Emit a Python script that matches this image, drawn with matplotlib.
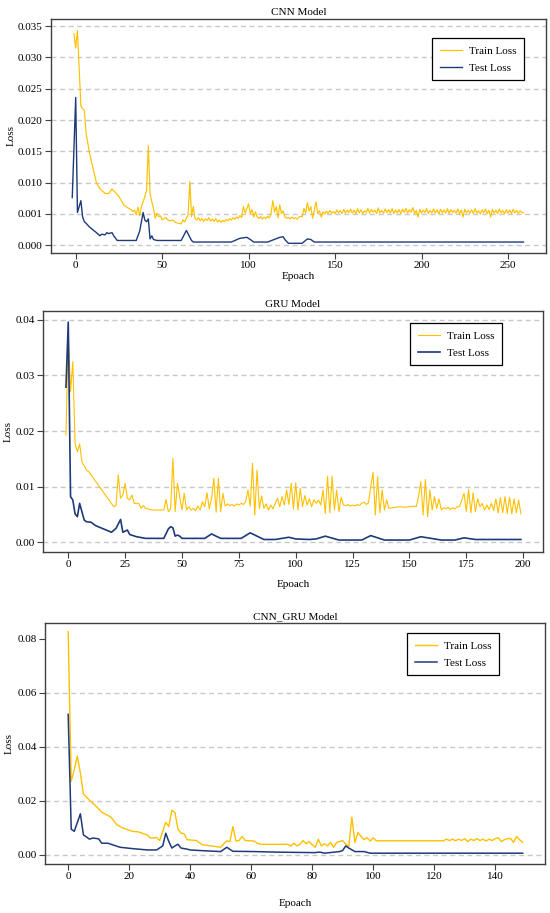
import numpy as np
import matplotlib
matplotlib.use("Agg")
import matplotlib.pyplot as plt

plt.rcParams["font.family"] = ["Liberation Serif", "DejaVu Serif"]
plt.rcParams["font.size"] = 8

TRAIN_COLOR = "#FFC000"
TEST_COLOR = "#1F3A7A"

# ---------------- CNN model ----------------
cnn_ticks = [0.000, 0.001, 0.010, 0.015, 0.020, 0.025, 0.030, 0.035]

cnn_train_epoch = [
    -1, 0, 1, 3, 5, 6, 8, 10, 12, 14, 17, 19, 21, 25, 28, 32, 33, 34, 35, 36,
    37, 38, 39, 40, 41, 42, 43, 44, 45, 46, 47, 48, 49, 50, 52, 54, 56, 58, 61, 62,
    63, 65, 66, 67, 68, 69, 70, 71, 72, 73, 74, 75, 76, 77, 78, 79, 80, 81, 82, 83,
    84, 85, 86, 87, 88, 89, 90, 91, 92, 93, 94, 95, 96, 97, 98, 99, 100, 101, 102, 103,
    104, 105, 106, 107, 108, 109, 110, 111, 112, 113, 114, 115, 116, 117, 118, 119, 120, 121, 122, 123,
    124, 125, 126, 127, 128, 129, 130, 131, 132, 133, 134, 135, 136, 137, 138, 139,
]
cnn_train_loss = [
    0.0338, 0.0315, 0.0343, 0.0222, 0.0215, 0.0179, 0.0147, 0.0123, 0.0099, 0.0082,
    0.0069, 0.0068, 0.0082, 0.0060, 0.0034, 0.0022, 0.0017, 0.0021, 0.00097, 0.0029,
    0.00094, 0.0031, 0.0045, 0.0060, 0.0079, 0.0159, 0.0069, 0.0045, 0.0026, 0.00086,
    0.0012, 0.00091, 0.00094, 0.00081, 0.00088, 0.00078, 0.00080, 0.00072, 0.00068, 0.00081,
    0.00074, 0.00097, 0.0102, 0.00091, 0.0031, 0.00086, 0.00080, 0.00088, 0.00078, 0.00086,
    0.00076, 0.00084, 0.00079, 0.00088, 0.00077, 0.00083, 0.00076, 0.00085, 0.00074, 0.00080,
    0.00073, 0.00079, 0.00075, 0.00082, 0.00078, 0.00085, 0.00080, 0.00088, 0.00083, 0.00090,
    0.00086, 0.00095, 0.00088, 0.0031, 0.0012, 0.0026, 0.0039, 0.0011, 0.0022, 0.00090,
    0.0016, 0.00090, 0.00086, 0.00091, 0.00084, 0.00089, 0.00085, 0.00092, 0.00087, 0.0012,
    0.0048, 0.0015, 0.0031, 0.00088, 0.0036, 0.0011, 0.0019, 0.00090, 0.00086, 0.00089,
    0.00084, 0.00090, 0.00085, 0.00088, 0.00083, 0.00089, 0.00092, 0.00090, 0.0026, 0.0012,
    0.0042, 0.0018, 0.0031, 0.00086, 0.0021, 0.0045,
]
cnn_tail_epoch = list(range(140, 260))
cnn_tail_loss = [
    0.0011, 0.0019, 0.0009, 0.0016, 0.0010, 0.0018, 0.0011, 0.0020, 0.0012, 0.0017,
    0.0010, 0.0021, 0.0013, 0.0019, 0.0011, 0.0023, 0.0012, 0.0020, 0.0014, 0.0024,
    0.0012, 0.0021, 0.0010, 0.0025, 0.0013, 0.0022, 0.0011, 0.0019, 0.0013, 0.0026,
    0.0012, 0.0023, 0.0015, 0.0021, 0.0011, 0.0027, 0.0013, 0.0020, 0.0012, 0.0024,
    0.0014, 0.0022, 0.0012, 0.0025, 0.0011, 0.0021, 0.0013, 0.0023, 0.0010, 0.0024,
    0.0014, 0.0026, 0.0012, 0.0022, 0.0015, 0.0028, 0.0011, 0.0020, 0.0009, 0.0023,
    0.0012, 0.0021, 0.0014, 0.0025, 0.0011, 0.0020, 0.0013, 0.0024, 0.0012, 0.0022,
    0.0010, 0.0023, 0.0013, 0.0021, 0.0012, 0.0025, 0.0011, 0.0022, 0.0014, 0.0020,
    0.0012, 0.0024, 0.0011, 0.0021, 0.0009, 0.0023, 0.0013, 0.0020, 0.0012, 0.0022,
    0.0011, 0.0025, 0.0012, 0.0019, 0.0010, 0.0022, 0.0013, 0.0024, 0.0011, 0.0020,
    0.0009, 0.0023, 0.0012, 0.0021, 0.0011, 0.0024, 0.0013, 0.0020, 0.0010, 0.0022,
    0.0012, 0.0021, 0.0011, 0.0023, 0.0013, 0.0020, 0.0012, 0.0019, 0.0014, 0.0013,
]
cnn_test_epoch = [
    -2, 0, 1, 3, 4, 5, 6, 8, 10, 12, 14, 15, 17, 18, 19, 21, 22, 24, 35, 37,
    39, 40, 41, 42, 43, 44, 45, 47, 61, 64, 67, 68, 90, 95, 99, 101, 103, 111, 118, 120,
    121, 123, 131, 134, 136, 138, 259,
]
cnn_test_loss = [
    0.0057, 0.0236, 0.0014, 0.0048, 0.0009, 0.00075, 0.00070, 0.00058, 0.00049, 0.00040,
    0.00030, 0.00035, 0.00033, 0.00040, 0.00037, 0.00040, 0.00030, 0.00015, 0.00015, 0.00045,
    0.0014, 0.00080, 0.00075, 0.00084, 0.00020, 0.00030, 0.00018, 0.00015, 0.00015, 0.00047,
    0.00015, 0.00010, 0.00010, 0.00022, 0.00025, 0.00018, 0.00010, 0.00010, 0.00025, 0.00027,
    0.00018, 0.00006, 0.00006, 0.00020, 0.00018, 0.00010, 0.00010,
]

# ---------------- GRU model ----------------
gru_train_epoch = [
    -1, 0, 1, 2, 3, 4, 5, 6, 8, 9, 20, 21, 22, 23, 24, 25, 26, 27, 28, 29,
    31, 32, 33, 34, 37, 42,
] + list(range(43, 142)) + [144, 146, 148, 150, 152] + list(range(153, 200))
gru_train_loss = [
    0.0193, 0.0376, 0.0271, 0.0325, 0.0178, 0.0163, 0.0177, 0.0145, 0.0130, 0.0127,
    0.0064, 0.0066, 0.0121, 0.0079, 0.0085, 0.0106, 0.0079, 0.0076, 0.0085, 0.0070,
    0.0070, 0.0061, 0.0066, 0.0061, 0.0058, 0.0058,
    # 43 - 141
    0.0077, 0.0055, 0.0060, 0.0151, 0.0055, 0.0106, 0.0082, 0.0058, 0.0088, 0.0058,
    0.0064, 0.0058, 0.0061, 0.0057, 0.0065, 0.0058, 0.0073, 0.0064, 0.0089, 0.0060,
    0.0079, 0.0115, 0.0054, 0.0115, 0.0055, 0.0088, 0.0065, 0.0069, 0.0066, 0.0068,
    0.0065, 0.0069, 0.0067, 0.0070, 0.0068, 0.0073, 0.0094, 0.0065, 0.0142, 0.0049,
    0.0130, 0.0061, 0.0083, 0.0061, 0.0069, 0.0058, 0.0067, 0.0060, 0.0070, 0.0079,
    0.0064, 0.0082, 0.0067, 0.0094, 0.0068, 0.0106, 0.0060, 0.0107, 0.0058, 0.0097,
    0.0064, 0.0084, 0.0067, 0.0078, 0.0064, 0.0076, 0.0070, 0.0076, 0.0067, 0.0094,
    0.0052, 0.0119, 0.0053, 0.0119, 0.0058, 0.0094, 0.0055, 0.0081, 0.0067, 0.0066,
    0.0068, 0.0065, 0.0067, 0.0065, 0.0068, 0.0066, 0.0070, 0.0072, 0.0068, 0.0071,
    0.0100, 0.0126, 0.0049, 0.0118, 0.0053, 0.0094, 0.0058, 0.0076, 0.0061,
    # 144 - 152
    0.0063, 0.0064, 0.0063, 0.0064, 0.0065,
    # 153 - 199
    0.0064, 0.0082, 0.0109, 0.0049, 0.0113, 0.0046, 0.0094, 0.0058, 0.0082, 0.0061,
    0.0078, 0.0058, 0.0062, 0.0060, 0.0063, 0.0059, 0.0062, 0.0060, 0.0064, 0.0064,
    0.0076, 0.0088, 0.0055, 0.0095, 0.0053, 0.0089, 0.0055, 0.0078, 0.0064, 0.0070,
    0.0058, 0.0067, 0.0059, 0.0070, 0.0057, 0.0078, 0.0053, 0.0080, 0.0053, 0.0082,
    0.0052, 0.0081, 0.0051, 0.0078, 0.0053, 0.0076, 0.0051,
]
gru_test_epoch = [
    -1, 0, 1, 2, 3, 4, 5, 6, 7, 8, 10, 12, 19, 21, 23, 24, 25, 26, 27, 30,
    34, 42, 44, 45, 46, 47, 48, 49, 50, 60, 63, 67, 76, 80, 86, 91, 97, 100, 106, 109,
    113, 119, 129, 133, 139, 150, 155, 164, 170, 174, 179, 199,
]
gru_test_loss = [
    0.0279, 0.0396, 0.0082, 0.0076, 0.0051, 0.0046, 0.0070, 0.0055, 0.0040, 0.0037,
    0.0036, 0.0030, 0.0018, 0.0025, 0.0041, 0.0018, 0.0020, 0.0022, 0.0014, 0.0010,
    0.0007, 0.0007, 0.0024, 0.0028, 0.0026, 0.0011, 0.0013, 0.0011, 0.0007, 0.0007,
    0.0015, 0.0007, 0.0007, 0.0017, 0.0005, 0.0005, 0.0009, 0.0006, 0.0005, 0.0006,
    0.0011, 0.0004, 0.0004, 0.0012, 0.0004, 0.0004, 0.0010, 0.0004, 0.0004, 0.0008,
    0.0005, 0.0005,
]

# ---------------- CNN_GRU model ----------------
mix_train_epoch = [
    0, 1, 2, 3, 4, 5, 6, 7, 9, 11, 14, 16, 18, 21, 23, 26, 27, 29, 30, 32,
    33, 34, 35, 36, 37, 38, 39, 42, 44, 47, 50, 51, 52, 53, 54, 55, 56, 57, 58, 61,
    62, 63, 72,
] + list(range(73, 103)) + list(range(123, 150))
mix_train_loss = [
    0.0827, 0.0272, 0.0315, 0.0365, 0.0303, 0.0224, 0.0213, 0.0201, 0.0181, 0.0157,
    0.0139, 0.0110, 0.0098, 0.0086, 0.0084, 0.0072, 0.0061, 0.0063, 0.0052, 0.0120,
    0.0104, 0.0164, 0.0156, 0.0094, 0.0079, 0.0077, 0.0055, 0.0052, 0.0036, 0.0032,
    0.0027, 0.0040, 0.0051, 0.0047, 0.0104, 0.0050, 0.0052, 0.0067, 0.0052, 0.0050,
    0.0042, 0.0038, 0.0038,
    # 73 - 102
    0.0032, 0.0042, 0.0032, 0.0038, 0.0052, 0.0040, 0.0048, 0.0036, 0.0027, 0.0057,
    0.0032, 0.0040, 0.0032, 0.0045, 0.0027, 0.0045, 0.0048, 0.0052, 0.0038, 0.0030,
    0.0139, 0.0045, 0.0082, 0.0067, 0.0055, 0.0062, 0.0050, 0.0062, 0.0051, 0.0051,
    # 123 - 149
    0.0051, 0.0057, 0.0052, 0.0057, 0.0051, 0.0057, 0.0052, 0.0059, 0.0048, 0.0057,
    0.0052, 0.0059, 0.0052, 0.0057, 0.0050, 0.0057, 0.0052, 0.0059, 0.0062, 0.0048,
    0.0055, 0.0059, 0.0060, 0.0045, 0.0067, 0.0055, 0.0045,
]
mix_test_epoch = [
    0, 1, 2, 4, 5, 7, 8, 9, 10, 11, 13, 17, 21, 26, 29, 31, 32, 33, 34, 35,
    36, 37, 39, 40, 43, 50, 52, 54, 61, 68, 81, 82, 83, 84, 89, 90, 91, 92, 94, 97,
    99, 149,
]
mix_test_loss = [
    0.0520, 0.0094, 0.0086, 0.0151, 0.0073, 0.0057, 0.0061, 0.0060, 0.0058, 0.0042,
    0.0042, 0.0027, 0.0022, 0.0017, 0.0017, 0.0032, 0.0079, 0.0048, 0.0024, 0.0032,
    0.0038, 0.0024, 0.0020, 0.0017, 0.0015, 0.0011, 0.0027, 0.0012, 0.0011, 0.0009,
    0.0007, 0.0009, 0.0008, 0.0005, 0.0011, 0.0015, 0.0032, 0.0024, 0.0011, 0.0011,
    0.0005, 0.0005,
]


def cnn_forward(v):
    v = np.asarray(v, dtype=float)
    u = np.interp(v, cnn_ticks, np.arange(len(cnn_ticks)))
    u = np.where(v < cnn_ticks[0], (v - cnn_ticks[0]) / (cnn_ticks[1] - cnn_ticks[0]), u)
    top = len(cnn_ticks) - 1
    u = np.where(v > cnn_ticks[-1], top + (v - cnn_ticks[-1]) / (cnn_ticks[-1] - cnn_ticks[-2]), u)
    return u


def cnn_inverse(u):
    u = np.asarray(u, dtype=float)
    top = len(cnn_ticks) - 1
    v = np.interp(u, np.arange(len(cnn_ticks)), cnn_ticks)
    v = np.where(u < 0, cnn_ticks[0] + u * (cnn_ticks[1] - cnn_ticks[0]), v)
    v = np.where(u > top, cnn_ticks[-1] + (u - top) * (cnn_ticks[-1] - cnn_ticks[-2]), v)
    return v


def style_axes(ax, title, grid_levels, yticks, yfmt, xticks, xlabel_pad, ylabel_x):
    ax.set_title(title, fontsize=8, pad=3)
    for level in grid_levels:
        ax.axhline(level, color="#C8C8C8", lw=1.0, ls=(0, (3.6, 2.6)), zorder=0)
    ax.set_yticks(yticks)
    ax.set_yticklabels([yfmt % t for t in yticks])
    ax.set_xticks(xticks)
    ax.set_xlabel("Epoach", labelpad=xlabel_pad)
    ax.set_ylabel("Loss")
    ax.yaxis.set_label_coords(ylabel_x, 0.5)
    for side in ["top", "right", "bottom", "left"]:
        ax.spines[side].set_color("#404040")
        ax.spines[side].set_linewidth(1.0)
    ax.tick_params(direction="out", length=4, width=0.8, color="#404040", labelsize=8, pad=2)


def add_legend(ax, anchor, test_lw):
    leg = ax.legend(loc="upper right", bbox_to_anchor=anchor, fontsize=8,
                    fancybox=False, framealpha=1, edgecolor="black",
                    borderaxespad=0, borderpad=0.7, labelspacing=0.65,
                    handlelength=2.0, handletextpad=0.6)
    leg.get_frame().set_linewidth(0.9)
    return leg


fig = plt.figure(figsize=(5.5, 9.13), dpi=100)

# CNN
ax1 = fig.add_axes([0.0927, 0.7229, 0.9, 0.2563])
ax1.set_yscale("function", functions=(cnn_forward, cnn_inverse))
ax1.plot(cnn_train_epoch + cnn_tail_epoch, cnn_train_loss + cnn_tail_loss,
         color=TRAIN_COLOR, lw=0.85, label="Train Loss")
ax1.plot(cnn_test_epoch, cnn_test_loss, color=TEST_COLOR, lw=1.0, label="Test Loss")
ax1.set_xlim(-14.3, 272)
ax1.set_ylim(-0.00025, 0.03615)
style_axes(ax1, "CNN Model", cnn_ticks, cnn_ticks, "%.3f", [0, 50, 100, 150, 200, 250], 1.5, -0.072)
ax1.minorticks_off()
add_legend(ax1, (0.956, 0.919), 1.0)

# GRU
ax2 = fig.add_axes([0.0782, 0.3954, 0.909, 0.264])
ax2.plot(gru_train_epoch, gru_train_loss, color=TRAIN_COLOR, lw=0.8, label="Train Loss")
ax2.plot(gru_test_epoch, gru_test_loss, color=TEST_COLOR, lw=1.2, label="Test Loss")
ax2.set_xlim(-11.1, 208.7)
ax2.set_ylim(-0.00175, 0.0416)
gru_ticks = [0.00, 0.01, 0.02, 0.03, 0.04]
style_axes(ax2, "GRU Model", gru_ticks, gru_ticks, "%.2f", [0, 25, 50, 75, 100, 125, 150, 175, 200], 8, -0.06)
add_legend(ax2, (0.918, 0.95), 1.2)

# CNN_GRU
ax3 = fig.add_axes([0.0818, 0.0537, 0.909, 0.264])
ax3.plot(mix_train_epoch, mix_train_loss, color=TRAIN_COLOR, lw=1.0, label="Train Loss")
ax3.plot(mix_test_epoch, mix_test_loss, color=TEST_COLOR, lw=1.1, label="Test Loss")
ax3.set_xlim(-7.6, 156.3)
ax3.set_ylim(-0.0035, 0.0859)
mix_ticks = [0.00, 0.02, 0.04, 0.06, 0.08]
style_axes(ax3, "CNN_GRU Model", mix_ticks[:-1], mix_ticks, "%.2f", [0, 20, 40, 60, 80, 100, 120, 140], 13, -0.062)
add_legend(ax3, (0.908, 0.958), 1.1)

fig.savefig("out.png", dpi=100)
